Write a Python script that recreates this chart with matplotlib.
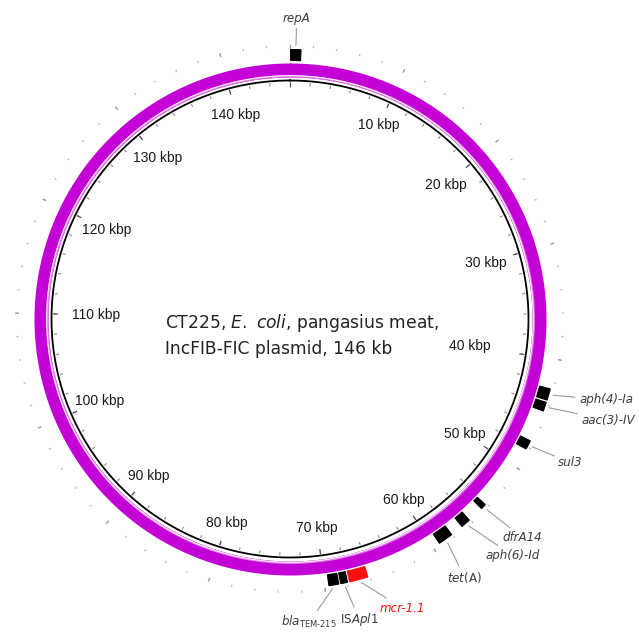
import numpy as np
import matplotlib
matplotlib.use("Agg")
import matplotlib.pyplot as plt

# plasmid data
plasmid_len = 146  # kb
title_lines = [r"CT225, $\mathit{E.}$ $\mathit{coli}$, pangasius meat,",
               "IncFIB-FIC plasmid, 146 kb"]

scale_kb = [10, 20, 30, 40, 50, 60, 70, 80, 90, 100, 110, 120, 130, 140]
scale_r = [213, 206, 204, 182, 209, 214, 211, 214, 211, 207, 194, 204, 209, 211]

gene_names = ["repA", "aph(4)-Ia", "aac(3)-IV", "sul3", "dfrA14", "aph(6)-Id",
              r"$\mathit{tet}$(A)", "mcr-1.1", r"IS$\mathit{Apl1}$",
              r"$\mathit{bla}_{\mathrm{TEM‐215}}$"]
gene_mid_kb = [0.5, 43.1, 44.2, 47.8, 54.4, 56.5, 58.7, 67.0, 68.3, 69.2]
gene_len_kb = [0.9, 1.0, 0.78, 0.79, 0.47, 0.84, 1.3, 1.63, 0.6, 0.86]
gene_colors = ["black"] * 7 + ["#ff1010"] + ["black"] * 2
gene_styles = ["italic"] * 6 + ["normal", "italic", "normal", "normal"]
# label offsets in pixels from the feature tip
label_dx = [1, 56, 62, 41, 38, 46, 18, 43, 15, -25]
label_dy = [30, -5, -13, -17, -30, -31, -37, -27, -35, -36]

W, H = 639, 633
cx, cy = 290, 319
R = 345


def kb2rad(kb):
    return np.asarray(kb, dtype=float) / plasmid_len * 2 * np.pi


fig = plt.figure(figsize=(W / 100, H / 100), dpi=100)
ax = fig.add_axes([(cx - R) / W, (H - cy - R) / H, 2 * R / W, 2 * R / H],
                  projection="polar")
ax.set_theta_zero_location("N")
ax.set_theta_direction(-1)
ax.set_ylim(0, R)
ax.set_axis_off()

theta = np.linspace(0, 2 * np.pi, 1441)

# magenta ring + backbone
ax.fill_between(theta, 242, 256, color="#c300d6", lw=0, zorder=2)
ax.fill_between(theta, 242, 244.5, color="#e07ae8", lw=0, zorder=2)
ax.plot(theta, np.full_like(theta, 243.3), color="white", lw=0.7, zorder=3)
ax.plot(theta, np.full_like(theta, 238.5), color="black", lw=1.3, zorder=3)

# inner and outer ticks
minor = kb2rad(np.arange(0, plasmid_len, 2))
major = kb2rad(np.arange(0, plasmid_len, 10))
ax.vlines(minor, 233.5, 236.5, colors="#8a8a8a", lw=0.8, zorder=2)
ax.vlines(major, 232, 237, colors="#555555", lw=0.9, zorder=2)
ax.vlines(minor, 272, 274, colors="#b8b8b8", lw=0.9, zorder=2)
ax.vlines(major, 271, 275, colors="#9a9a9a", lw=0.9, zorder=2)

# scale labels
for kb, r in zip(scale_kb, scale_r):
    ax.text(kb2rad(kb), r, f"{kb} kbp", ha="center", va="center",
            fontsize=10, family="Liberation Sans", color="#1a1a1a")

# genes
for name, mid, ln, col, sty, dx, dy in zip(gene_names, gene_mid_kb, gene_len_kb,
                                          gene_colors, gene_styles,
                                          label_dx, label_dy):
    ax.bar(kb2rad(mid), 11, width=kb2rad(ln), bottom=258.5, color=col,
           edgecolor=col, lw=0.8, zorder=4)
    txt_col = "#ff1010" if col != "black" else "#3c3c3c"
    ax.annotate(name, xy=(kb2rad(mid), 271), xytext=(dx, dy),
                textcoords="offset pixels", ha="center", va="center",
                fontsize=8.6, style=sty, color=txt_col, family="DejaVu Sans",
                annotation_clip=False,
                arrowprops=dict(arrowstyle="-", color="#9a9a9a", lw=0.8,
                                shrinkA=1, shrinkB=2))

fig.text(165 / W, 1 - 335 / H, "\n".join(title_lines), ha="left", va="center",
         fontsize=12.3, family="DejaVu Sans", color="#222222", linespacing=1.42)

fig.savefig("out.png", dpi=100, facecolor="white")
